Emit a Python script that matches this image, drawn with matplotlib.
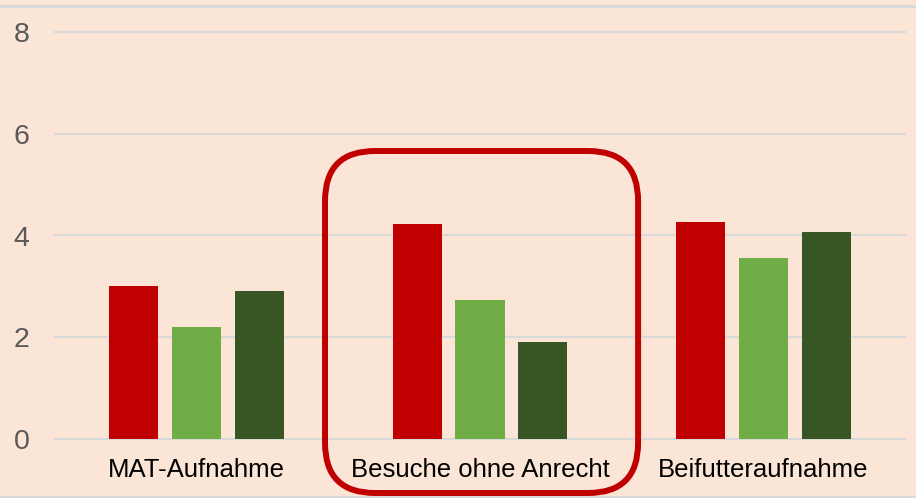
import matplotlib
matplotlib.use("Agg")
import matplotlib.pyplot as plt
import numpy as np
from matplotlib.patches import FancyBboxPatch
from matplotlib.transforms import IdentityTransform
from matplotlib.lines import Line2D

categories = ["MAT-Aufnahme", "Besuche ohne Anrecht", "Beifutteraufnahme"]
series_a = [3.0, 4.22, 4.26]
series_b = [2.2, 2.73, 3.56]
series_c = [2.91, 1.9, 4.07]
series_colors = ["#C00000", "#70AD47", "#375623"]
yticks = [0, 2, 4, 6, 8]

plt.rcParams["font.family"] = ["Liberation Sans", "DejaVu Sans"]
W, H, DPI = 916, 498, 100
bg = "#FBE5D6"
fig = plt.figure(figsize=(W / DPI, H / DPI), dpi=DPI, facecolor=bg)
ax = fig.add_axes([55 / W, 59 / H, 850 / W, 407 / H], facecolor=bg)

x = np.arange(len(categories))
bw = 0.173
step = 0.222
for i, (vals, col) in enumerate(zip([series_a, series_b, series_c], series_colors)):
    ax.bar(x + (i - 1) * step, vals, width=bw, color=col, zorder=3)

ax.set_xlim(-0.5, 2.5)
ax.set_ylim(0, 8)
ax.set_yticks(yticks)
ax.set_yticklabels([str(t) for t in yticks])
ax.set_xticks(x)
ax.set_xticklabels(categories)
for s in ax.spines.values():
    s.set_visible(False)
ax.grid(axis="y", color="#D9D9D9", linewidth=1.5, zorder=0)
for gl in ax.get_ygridlines():
    gl.set_clip_on(False)
ax.tick_params(axis="y", length=0, pad=18.5, labelsize=20.5, labelcolor="#595959")
ax.tick_params(axis="x", length=0, pad=13.5, labelsize=18.5, labelcolor="#000000")

# frame lines at top and bottom of chart area
fig.add_artist(Line2D([0, 1], [1 - 6 / H, 1 - 6 / H], transform=fig.transFigure, color="#D9D9D9", lw=2))
fig.add_artist(Line2D([0, 1], [1.5 / H, 1.5 / H], transform=fig.transFigure, color="#D9D9D9", lw=2))

# highlight box around the middle category
fig.canvas.draw()
px0 = ax.transData.transform((0.453, 0))[0]
px1 = ax.transData.transform((1.558, 0))[0]
box = FancyBboxPatch((px0, 5), px1 - px0, 342, boxstyle="round,pad=0,rounding_size=50",
                     transform=IdentityTransform(), fill=False, edgecolor="#C00000",
                     linewidth=4.3, clip_on=False, zorder=5)
fig.add_artist(box)

fig.savefig("out.png", dpi=DPI, facecolor=bg)
